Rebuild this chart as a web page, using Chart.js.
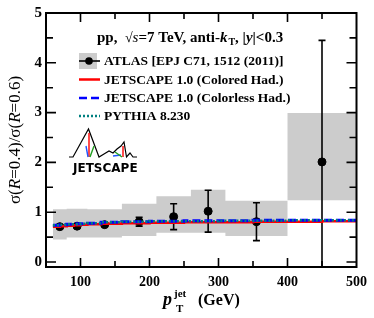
<!DOCTYPE html>
<html>
<head>
<meta charset="utf-8">
<script src="https://cdn.jsdelivr.net/npm/chart.js@4.4.1/dist/chart.umd.min.js"></script>
<style>
  html, body { margin: 0; padding: 0; background: #fff; }
  #wrap { width: 374px; height: 318px; }
</style>
</head>
<body>
<div id="wrap"><canvas id="ratioChart"></canvas></div>
<script>
// ATLAS data: bin centres, ratio and statistical error
const atlasPt = [70, 95, 135, 185, 235, 285, 355, 450];
const atlasRatio = [0.71, 0.72, 0.75, 0.81, 0.91, 1.02, 0.81, 2.01];
const atlasErr = [0.03, 0.03, 0.03, 0.09, 0.26, 0.42, 0.38, 2.44];

// systematic boxes (bin edges + low/high edge of each box)
const binEdges = [60, 80, 110, 160, 210, 260, 310, 400, 500];
const sysLow = [0.45, 0.49, 0.49, 0.52, 0.59, 0.59, 0.52, 1.24];
const sysHigh = [1.06, 1.07, 1.06, 1.17, 1.32, 1.45, 1.23, 2.99];

// model curves
const theoryPt = [60, 70, 80, 90, 100, 110, 130, 160, 200, 250, 300, 350, 400, 450, 500];
const colored = [0.71, 0.72, 0.73, 0.74, 0.75, 0.76, 0.77, 0.78, 0.79, 0.80, 0.80, 0.81, 0.81, 0.82, 0.82];
const colorless = [0.74, 0.75, 0.76, 0.77, 0.77, 0.78, 0.80, 0.81, 0.82, 0.83, 0.83, 0.84, 0.84, 0.84, 0.84];
const pythia = [0.74, 0.75, 0.76, 0.76, 0.77, 0.78, 0.80, 0.81, 0.82, 0.82, 0.83, 0.83, 0.84, 0.84, 0.84];

const xTicks = [100, 200, 300, 400, 500];
const yTicks = [0, 1, 2, 3, 4, 5];

const legendLabels = [
  'ATLAS [EPJ C71, 1512 (2011)]',
  'JETSCAPE 1.0 (Colored Had.)',
  'JETSCAPE 1.0 (Colorless Had.)',
  'PYTHIA 8.230'
];

const SERIF = '"Liberation Serif", "Times New Roman", serif';
const GRAY = '#cccccc';

// step edges for the boxes (last value repeated to close the last bin)
const boxTop = binEdges.map((x, i) => ({ x: x, y: sysHigh[Math.min(i, sysHigh.length - 1)] }));
const boxBottom = binEdges.map((x, i) => ({ x: x, y: sysLow[Math.min(i, sysLow.length - 1)] }));

function pairs(xs, ys) {
  return xs.map((x, i) => ({ x: x, y: ys[i] }));
}

// draws a list of text pieces one after another, returns end x
function drawRuns(ctx, runs, x, y) {
  runs.forEach(r => {
    ctx.font = r.font;
    ctx.fillText(r.t, x, y + (r.dy || 0));
    x += ctx.measureText(r.t).width + (r.gap || 0);
  });
  return x;
}

// error bars on the ATLAS points
const errorBars = {
  id: 'errorBars',
  afterDatasetDraw(chart, args) {
    if (chart.data.datasets[args.index].label !== 'ATLAS') return;
    const { ctx, chartArea: a, scales: { x, y } } = chart;
    ctx.save();
    ctx.beginPath();
    ctx.rect(a.left, a.top, a.right - a.left, a.bottom - a.top);
    ctx.clip();
    ctx.strokeStyle = '#000';
    ctx.lineWidth = 1.6;
    atlasPt.forEach((pt, i) => {
      const px = x.getPixelForValue(pt);
      const yHi = y.getPixelForValue(atlasRatio[i] + atlasErr[i]);
      const yLo = y.getPixelForValue(atlasRatio[i] - atlasErr[i]);
      ctx.beginPath();
      ctx.moveTo(px, yHi); ctx.lineTo(px, yLo);
      ctx.moveTo(px - 3.5, yHi); ctx.lineTo(px + 3.5, yHi);
      ctx.moveTo(px - 3.5, yLo); ctx.lineTo(px + 3.5, yLo);
      ctx.stroke();
    });
    ctx.restore();
  }
};

// frame with inward ticks on all four sides
const frameTicks = {
  id: 'frameTicks',
  afterDatasetsDraw(chart) {
    const { ctx, chartArea: a, scales: { x, y } } = chart;
    ctx.save();
    ctx.strokeStyle = '#000';
    ctx.lineWidth = 2;
    ctx.strokeRect(a.left, a.top, a.right - a.left, a.bottom - a.top);
    ctx.lineWidth = 1.6;
    ctx.beginPath();
    for (let v = 100; v < 500; v += 50) {
      const px = x.getPixelForValue(v);
      const len = v % 100 === 0 ? 9 : 6;
      ctx.moveTo(px, a.bottom); ctx.lineTo(px, a.bottom - len);
      ctx.moveTo(px, a.top); ctx.lineTo(px, a.top + len);
    }
    for (let v = 0; v < 5; v += 0.5) {
      const py = y.getPixelForValue(v);
      const len = Number.isInteger(v) ? 10 : 7;
      ctx.moveTo(a.left, py); ctx.lineTo(a.left + len, py);
      ctx.moveTo(a.right, py); ctx.lineTo(a.right - len, py);
    }
    ctx.stroke();
    ctx.restore();
  }
};

// axis titles, header, legend and logo
const annotations = {
  id: 'annotations',
  afterDraw(chart) {
    const { ctx } = chart;
    ctx.save();
    ctx.fillStyle = '#000';
    ctx.textBaseline = 'alphabetic';

    // y title
    const yRuns = [
      { t: 'σ(', font: '17px ' + SERIF },
      { t: 'R', font: 'italic 17px ' + SERIF },
      { t: '=0.4)/σ(', font: '17px ' + SERIF },
      { t: 'R', font: 'italic 17px ' + SERIF },
      { t: '=0.6)', font: '17px ' + SERIF }
    ];
    let w = 0;
    yRuns.forEach(r => { ctx.font = r.font; w += ctx.measureText(r.t).width; });
    ctx.save();
    ctx.translate(20, 140);
    ctx.rotate(-Math.PI / 2);
    drawRuns(ctx, yRuns, -w / 2, 0);
    ctx.restore();

    // x title
    ctx.font = 'italic bold 18px ' + SERIF;
    ctx.fillText('p', 163, 305);
    ctx.font = 'bold 11px ' + SERIF;
    ctx.fillText('jet', 174, 297);
    ctx.fillText('T', 176, 312);
    ctx.font = 'bold 16px ' + SERIF;
    ctx.fillText('(GeV)', 198, 305);

    // header line
    drawRuns(ctx, [
      { t: 'pp,  ', font: 'bold 15px ' + SERIF },
      { t: '√', font: '14px ' + SERIF },
      { t: 's', font: 'italic 15px ' + SERIF },
      { t: '=7 TeV, anti-', font: 'bold 15px ' + SERIF },
      { t: 'k', font: 'italic bold 15px ' + SERIF, gap: 1 },
      { t: 'T', font: 'bold 10px ' + SERIF, dy: 3 },
      { t: ', |', font: 'bold 15px ' + SERIF },
      { t: 'y', font: 'italic bold 15px ' + SERIF },
      { t: '|<0.3', font: 'bold 15px ' + SERIF }
    ], 97, 42);

    // legend
    const lx0 = 79, lx1 = 100, tx = 104;
    const rows = [61, 79.5, 98, 116];
    ctx.fillStyle = GRAY;
    ctx.fillRect(lx0, rows[0] - 8, 18, 16);
    ctx.strokeStyle = '#000';
    ctx.lineWidth = 1.6;
    ctx.beginPath();
    ctx.moveTo(lx0, rows[0]); ctx.lineTo(lx1, rows[0]);
    ctx.stroke();
    ctx.fillStyle = '#000';
    ctx.beginPath();
    ctx.arc(89, rows[0], 3.8, 0, Math.PI * 2);
    ctx.fill();

    ctx.lineWidth = 2.5;
    ctx.strokeStyle = '#ff0000';
    ctx.beginPath(); ctx.moveTo(lx0, rows[1]); ctx.lineTo(lx1, rows[1]); ctx.stroke();
    ctx.strokeStyle = '#0000ff';
    ctx.setLineDash([8, 4]);
    ctx.beginPath(); ctx.moveTo(lx0, rows[2]); ctx.lineTo(lx1, rows[2]); ctx.stroke();
    ctx.strokeStyle = '#008080';
    ctx.setLineDash([2, 2]);
    ctx.beginPath(); ctx.moveTo(lx0, rows[3]); ctx.lineTo(lx1, rows[3]); ctx.stroke();
    ctx.setLineDash([]);

    ctx.fillStyle = '#000';
    ctx.font = 'bold 13.5px ' + SERIF;
    ctx.textBaseline = 'middle';
    legendLabels.forEach((lbl, i) => ctx.fillText(lbl, tx, rows[i] + 1));

    // little JETSCAPE logo
    ctx.lineWidth = 1.2;
    ctx.strokeStyle = '#000';
    ctx.beginPath();
    [[69, 157], [73, 157], [88.5, 129], [99, 157], [104, 154], [109, 151], [113, 153],
     [117, 149], [121, 146], [124, 142], [126.5, 157], [130, 153], [133, 157], [137, 157]]
      .forEach((p, i) => i ? ctx.lineTo(p[0], p[1]) : ctx.moveTo(p[0], p[1]));
    ctx.stroke();
    ctx.lineWidth = 1.4;
    ctx.strokeStyle = '#ff0000';
    ctx.beginPath(); ctx.moveTo(89, 133); ctx.lineTo(89, 157);
    ctx.moveTo(123, 146); ctx.lineTo(123, 157); ctx.stroke();
    ctx.strokeStyle = '#2255ff';
    ctx.beginPath(); ctx.moveTo(86, 146); ctx.lineTo(88, 157);
    ctx.moveTo(113, 156); ctx.lineTo(121, 155); ctx.stroke();
    ctx.strokeStyle = '#22a022';
    ctx.beginPath(); ctx.moveTo(90, 157); ctx.lineTo(94, 146);
    ctx.moveTo(115, 152); ctx.lineTo(122, 157); ctx.stroke();
    ctx.font = 'bold 12px "DejaVu Sans", sans-serif';
    ctx.textBaseline = 'alphabetic';
    ctx.fillText('JETSCAPE', 73, 172);

    ctx.restore();
  }
};

const ctx = document.getElementById('ratioChart').getContext('2d');
new Chart(ctx, {
  type: 'line',
  data: {
    datasets: [
      {
        label: 'sysTop',
        data: boxTop,
        stepped: 'before',
        borderWidth: 0,
        pointRadius: 0,
        fill: false,
        order: 6
      },
      {
        label: 'sysBottom',
        data: boxBottom,
        stepped: 'before',
        borderWidth: 0,
        pointRadius: 0,
        backgroundColor: GRAY,
        fill: '-1',
        order: 5
      },
      {
        label: 'ATLAS',
        data: pairs(atlasPt, atlasRatio),
        showLine: false,
        pointRadius: 4,
        pointBackgroundColor: '#000',
        pointBorderColor: '#000',
        order: 4
      },
      {
        label: 'JETSCAPE 1.0 (Colored Had.)',
        data: pairs(theoryPt, colored),
        borderColor: '#ff0000',
        borderWidth: 2.5,
        pointRadius: 0,
        stepped: 'before',
        order: 3
      },
      {
        label: 'JETSCAPE 1.0 (Colorless Had.)',
        data: pairs(theoryPt, colorless),
        borderColor: '#0000ff',
        borderWidth: 3,
        borderDash: [8, 4],
        pointRadius: 0,
        stepped: 'before',
        order: 2
      },
      {
        label: 'PYTHIA 8.230',
        data: pairs(theoryPt, pythia),
        borderColor: '#008080',
        borderWidth: 2.5,
        borderDash: [2, 2],
        pointRadius: 0,
        stepped: 'before',
        order: 1
      }
    ]
  },
  options: {
    responsive: true,
    maintainAspectRatio: false,
    animation: false,
    layout: { padding: { top: 12, right: 12, left: 0, bottom: 0 } },
    plugins: {
      legend: { display: false },
      tooltip: { enabled: false }
    },
    scales: {
      x: {
        type: 'linear',
        min: 50,
        max: 500,
        grid: { display: false, drawTicks: false },
        border: { display: false },
        afterBuildTicks: scale => { scale.ticks = xTicks.map(v => ({ value: v })); },
        afterFit: scale => { scale.height = 51; },
        ticks: {
          padding: 7,
          color: '#000',
          font: { family: SERIF, size: 14, weight: 'bold' }
        }
      },
      y: {
        min: -0.1,
        max: 5,
        grid: { display: false, drawTicks: false },
        border: { display: false },
        afterBuildTicks: scale => { scale.ticks = yTicks.map(v => ({ value: v })); },
        afterFit: scale => { scale.width = 46; },
        ticks: {
          padding: 4,
          color: '#000',
          font: { family: SERIF, size: 15, weight: 'bold' }
        }
      }
    }
  },
  plugins: [errorBars, frameTicks, annotations]
});
</script>
</body>
</html>
